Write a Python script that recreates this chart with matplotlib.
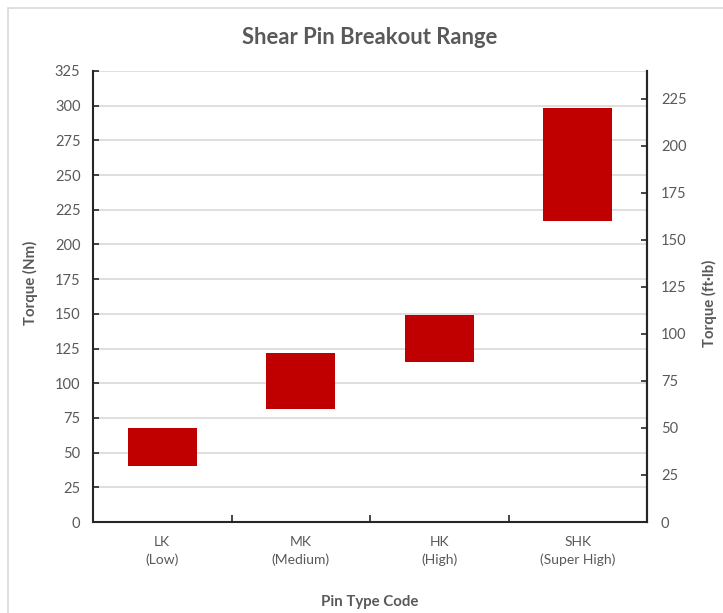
import numpy as np
import matplotlib.pyplot as plt
from matplotlib.patches import Rectangle

# breakout range per pin type, read in ft-lb off the right axis
pin_codes = ["LK\n(Low)", "MK\n(Medium)", "HK\n(High)", "SHK\n(Super High)"]
low_ftlb = [30, 60, 85, 160]
high_ftlb = [50, 90, 110, 220]

NM_PER_FTLB = 1.35582
left_ticks = np.arange(0, 326, 25)
right_ticks = np.arange(0, 226, 25)

plt.rcParams['font.family'] = ['Lato', 'DejaVu Sans']
txt = '#595959'

fig = plt.figure(figsize=(7.23, 6.13), dpi=100)
ax = fig.add_axes([93 / 723, 91 / 613, 554 / 723, 451 / 613])

low_nm = np.array(low_ftlb) * NM_PER_FTLB
high_nm = np.array(high_ftlb) * NM_PER_FTLB
x = np.arange(len(pin_codes))
ax.bar(x, high_nm - low_nm, bottom=low_nm, width=0.5, color='#C00000', zorder=3)

ax.set_xlim(-0.5, len(pin_codes) - 0.5)
ax.set_ylim(0, 325)
ax.set_yticks(left_ticks)
ax.yaxis.grid(True, color='#d9d9d9', linewidth=1.2, zorder=0)
ax.set_axisbelow(True)

ax.set_xticks(x)
ax.set_xticklabels(pin_codes, color=txt, fontsize=10, linespacing=1.5)
ax.set_xticks(x[:-1] + 0.5, minor=True)
ax.tick_params(axis='x', which='major', length=0, pad=10)
ax.tick_params(axis='x', which='minor', direction='in', length=5, width=1.2, color='#262626')
ax.tick_params(axis='y', direction='in', length=4, width=1.2, colors='#262626',
               labelcolor=txt, labelsize=10.5, pad=9)

for side in ['left', 'bottom', 'right']:
    ax.spines[side].set_color('#262626')
    ax.spines[side].set_linewidth(1.5)
ax.spines['top'].set_visible(False)

ax2 = ax.twinx()
ax2.set_ylim(0, 325 / NM_PER_FTLB)
ax2.set_yticks(right_ticks)
ax2.tick_params(axis='y', direction='in', length=4, width=1.2, colors='#262626',
                labelcolor=txt, labelsize=10.5, pad=10)
for side in ['left', 'bottom', 'top']:
    ax2.spines[side].set_visible(False)
ax2.spines['right'].set_color('#262626')
ax2.spines['right'].set_linewidth(1.5)

fig.text(30 / 723, 1 - 283 / 613, 'Torque (Nm)', rotation=90, ha='center', va='center',
         color=txt, fontsize=10.8, fontweight='bold')
fig.text(709 / 723, 1 - 303 / 613, 'Torque (ft·lb)', rotation=90, ha='center', va='center',
         color=txt, fontsize=10.8, fontweight='bold')
fig.text(370 / 723, 1 - 602 / 613, 'Pin Type Code', ha='center', va='center',
         color=txt, fontsize=10.8, fontweight='bold')

fig.text(370 / 723, 1 - 37 / 613, 'Shear Pin Breakout Range', ha='center', va='center',
         color=txt, fontsize=15.8, fontweight='bold')

# chart area border (cropped at right/bottom)
fig.patches.append(Rectangle((8 / 723, -0.05), 1.05, 1 - 8 / 613 + 0.05,
                             transform=fig.transFigure, fill=False,
                             edgecolor='#d9d9d9', linewidth=1.2))

fig.savefig('out.png', dpi=100)
